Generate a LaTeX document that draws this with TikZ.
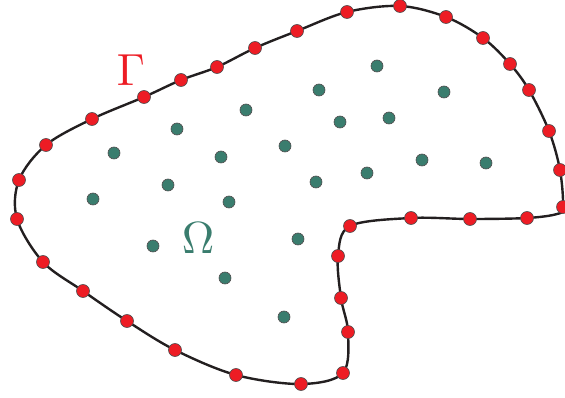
\documentclass[tikz,border=0pt]{standalone}
\usetikzlibrary{calc}
\definecolor{gred}{HTML}{ED1C24}
\definecolor{teal}{HTML}{3A7D6E}
\definecolor{ink}{HTML}{231F20}
\tikzset{
  bdot/.style={circle,fill=gred,draw=ink!80,line width=0.6pt,minimum size=13pt,inner sep=0pt},
  idot/.style={circle,fill=teal,draw=ink!80,line width=0.6pt,minimum size=12pt,inner sep=0pt},
  bcurve/.style={draw=ink,line width=2.4pt},
  biglabel/.style={scale=4.5,inner sep=0pt}
}
\begin{document}
\begin{tikzpicture}[x=1pt,y=-1pt]
\useasboundingbox (0,0) rectangle (565,398);
% boundary points
\foreach \n/\p in {1/{347,12},2/{400,6},3/{446,17},4/{483,38},5/{510,64},6/{529,90},7/{549,131},8/{560,170},9/{563,207},10/{527,218},11/{470,219},12/{411,218},13/{350,226},14/{338,256},15/{341,298},16/{348,332},17/{343,373},18/{301,384},19/{236,375},20/{175,350},21/{127,321},22/{83,291},23/{43,262},24/{17,219},25/{19,180},26/{46,145},27/{92,119},28/{144,97},29/{181,80},30/{217,67},31/{255,48},32/{297,31}}
  \coordinate (b\n) at (\p);
\coordinate (c9) at (557,214);
\path[bcurve] plot[smooth cycle,tension=0.55] coordinates {(b1) (b2) (b3) (b4) (b5) (b6) (b7) (b8) (b9) (c9) (b10) (b11) (b12) (b13) (b14) (b15) (b16) (b17) (b18) (b19) (b20) (b21) (b22) (b23) (b24) (b25) (b26) (b27) (b28) (b29) (b30) (b31) (b32)};
\foreach \n in {1,...,32} \node[bdot] (r\n) at (b\n) {};
% interior points
\foreach \n/\p in {1/{377,66},2/{444,92},3/{319,90},4/{246,110},5/{177,129},6/{340,122},7/{389,118},8/{114,153},9/{221,157},10/{285,146},11/{168,185},12/{367,173},13/{422,160},14/{486,163},15/{316,182},16/{93,199},17/{229,202},18/{153,246},19/{298,239},20/{225,278},21/{284,317}}
  \node[idot] (g\n) at (\p) {};
\node[biglabel,text=gred] (gamma) at (131,70) {$\Gamma$};
\node[biglabel,text=teal] (omega) at (198,238) {$\Omega$};
\end{tikzpicture}
\end{document}
